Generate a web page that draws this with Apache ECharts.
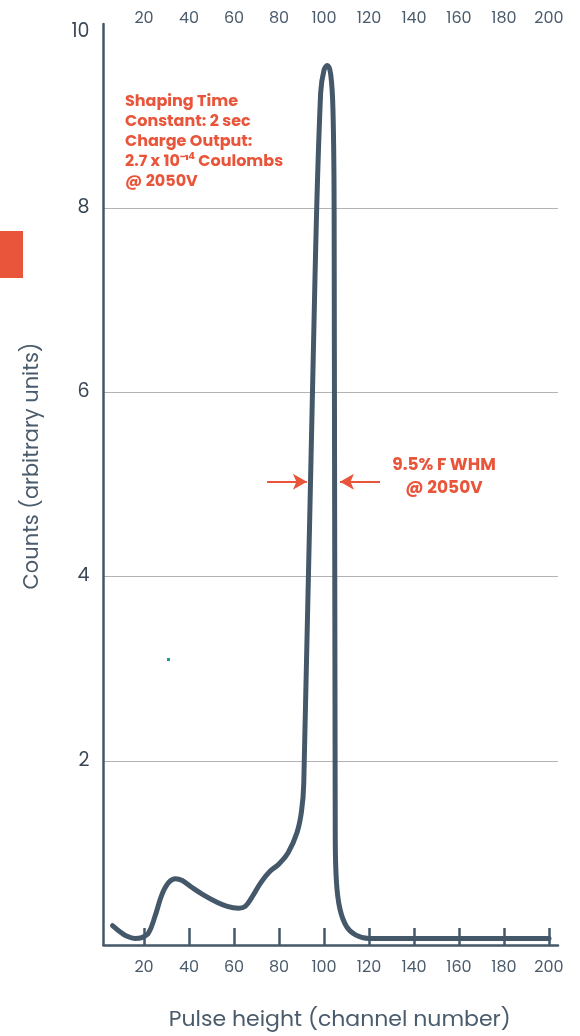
<!DOCTYPE html>
<html>
<head>
<meta charset="utf-8">
<script src="https://cdn.jsdelivr.net/npm/echarts@6/dist/echarts.min.js"></script>
<style>html,body{margin:0;padding:0;background:#fff}#c{width:580px;height:1036px}</style>
</head>
<body>
<div id="c"></div>
<script>
// Data
const channels = [6, 9, 12, 16, 19, 22, 25, 28, 31, 34, 37, 41, 46, 52, 57, 62, 65, 68, 72, 76, 80, 84, 88, 90, 91, 96, 98.5, 100, 101.5, 103, 104, 104.5, 105, 105.5, 107, 110, 114, 120, 140, 160, 180, 200];
const counts   = [0.21, 0.15, 0.10, 0.07, 0.08, 0.13, 0.32, 0.55, 0.68, 0.72, 0.70, 0.63, 0.55, 0.47, 0.42, 0.40, 0.42, 0.52, 0.68, 0.80, 0.88, 1.00, 1.22, 1.45, 1.75, 7.25, 9.25, 9.5, 9.55, 9.45, 9.05, 8.0, 1.2, 0.7, 0.4, 0.2, 0.11, 0.07, 0.07, 0.07, 0.07, 0.07];
const xTicks = [20, 40, 60, 80, 100, 120, 140, 160, 180, 200];
const yTicks = [2, 4, 6, 8, 10];
const fwhmLevel = 5.03;
const fwhmLeftArrow = [74.7, 92.4];
const fwhmRightArrow = [124.9, 107.1];
const noteLines = ['Shaping Time', 'Constant: 2 sec', 'Charge Output:', '2.7 x 10⁻¹⁴ Coulombs', '@ 2050V'];
const fwhmLines = ['9.5% F WHM', '@ 2050V'];

const slate = '#44586a';
const red = '#e8553a';
const font = 'Poppins, "Open Sans", sans-serif';

const chart = echarts.init(document.getElementById('c'), null, {renderer: 'canvas'});
chart.setOption({
  animation: false,
  grid: {left: 103.5, right: 22, top: 24, bottom: 90},
  xAxis: [{
    type: 'value', min: 2, max: 204, position: 'bottom',
    axisLine: {show: true, lineStyle: {color: slate, width: 2.5}},
    axisTick: {show: true, inside: true, length: 17, lineStyle: {color: slate, width: 2.5}, customValues: xTicks},
    axisLabel: {color: '#4a5b6c', fontSize: 16, fontFamily: font, margin: 15, customValues: xTicks},
    splitLine: {show: false},
    name: 'Pulse height (channel number)', nameLocation: 'middle', nameGap: 64,
    nameTextStyle: {color: '#4a5b6c', fontSize: 22, fontFamily: font, padding: [0, 0, 0, 18]}
  }, {
    type: 'value', min: 2, max: 204, position: 'top',
    axisLine: {show: false}, axisTick: {show: false},
    axisLabel: {color: '#4a5b6c', fontSize: 16, fontFamily: font, margin: -3, customValues: xTicks},
    splitLine: {show: false}
  }],
  yAxis: {
    type: 'value', min: 0, max: 10, interval: 2,
    axisLine: {show: true, lineStyle: {color: slate, width: 2.5}},
    axisTick: {show: false},
    axisLabel: {color: '#3a4654', fontSize: 19, fontFamily: font, margin: 14,
      formatter: v => (v === 10 ? '{top|10}' : (yTicks.indexOf(v) >= 0 ? String(v) : '')),
      rich: {top: {color: '#3a4654', fontSize: 19, fontFamily: font, padding: [16, 0, 0, 0]}}},
    splitLine: {show: true, showMinLine: false, showMaxLine: false, lineStyle: {color: '#b3b3b3', width: 1}}
  },
  series: [{
    type: 'line',
    data: channels.map((c, i) => [c, counts[i]]),
    showSymbol: false, smooth: 0.4,
    lineStyle: {color: slate, width: 5, cap: 'round', join: 'round'},
    markLine: {
      silent: true, symbol: ['none', 'arrow'], symbolSize: [12, 14],
      label: {show: false},
      lineStyle: {color: red, width: 2, type: 'solid'},
      data: [
        [{coord: [fwhmLeftArrow[0], fwhmLevel]}, {coord: [fwhmLeftArrow[1], fwhmLevel]}],
        [{coord: [fwhmRightArrow[0], fwhmLevel]}, {coord: [fwhmRightArrow[1], fwhmLevel]}]
      ]
    }
  }],
  graphic: [
    {type: 'rect', left: 0, top: 231, shape: {width: 23, height: 47}, style: {fill: red}},
    {type: 'rect', left: 167, top: 658, shape: {width: 3, height: 3}, style: {fill: '#17a08c'}},
    {type: 'text', left: 125, top: 92, style: {text: noteLines.join('\n'), fill: red, font: 'bold 16px ' + font, lineHeight: 20}},
    {type: 'text', x: 444, y: 454, style: {text: fwhmLines.join('\n'), fill: red, font: 'bold 17px ' + font, lineHeight: 23, align: 'center'}},
    {type: 'text', x: 33, y: 466, rotation: Math.PI / 2, style: {text: 'Counts (arbitrary units)', fill: '#4a5b6c', font: '21px ' + font, align: 'center', verticalAlign: 'middle'}}
  ]
});
</script>
</body>
</html>
